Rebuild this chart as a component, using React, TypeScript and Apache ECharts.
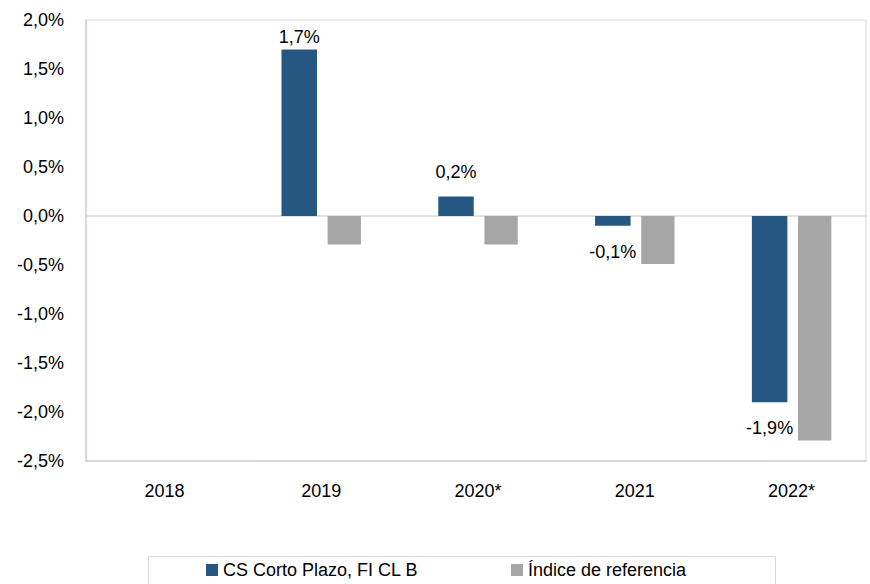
import React, { useEffect, useRef } from "react";
import * as echarts from "echarts";

const categories = ["2018", "2019", "2020*", "2021", "2022*"];
const fundName = "CS Corto Plazo, FI CL B";
const indexName = "Índice de referencia";
const fundValues: (number | null)[] = [null, 1.7, 0.2, -0.1, -1.9];
const indexValues: (number | null)[] = [null, -0.29, -0.29, -0.49, -2.29];
const yMin = -2.5;
const yMax = 2.0;
const yStep = 0.5;

const FONT = "'Liberation Sans', Arial, Helvetica, sans-serif";
const FS = 18;
const fmt = (v: number) => v.toFixed(1).replace(".", ",") + "%";

export default function App() {
  const ref = useRef<HTMLDivElement>(null);
  useEffect(() => {
    if (!ref.current) return;
    const chart = echarts.init(ref.current, null, { renderer: "svg" });
    const fundData = fundValues.map((v) => {
      if (v === null) return { value: null };
      const pos = v >= 0 ? "top" : "bottom";
      const dist = v >= 0 ? (v > 1.5 ? 3 : 15) : 17;
      return { value: v, label: { position: pos, distance: dist } };
    });
    const legendText = { fontFamily: FONT, fontSize: FS, color: "#000" };
    chart.setOption({
      animation: false,
      backgroundColor: "#ffffff",
      textStyle: { fontFamily: FONT },
      grid: [
        {
          left: 86,
          top: 20,
          width: 780,
          bottom: 123,
          show: true,
          borderColor: "#d9d9d9",
          borderWidth: 1,
        },
        {
          left: 86,
          top: 20,
          width: 791.7,
          bottom: 123,
        },
      ],
      legend: [
        {
          data: [fundName],
          left: 206,
          top: 561,
          padding: 0,
          icon: "rect",
          itemWidth: 12,
          itemHeight: 12,
          textStyle: legendText,
          selectedMode: false,
        },
        {
          data: [indexName],
          left: 511,
          top: 561,
          padding: 0,
          icon: "rect",
          itemWidth: 12,
          itemHeight: 12,
          textStyle: legendText,
          selectedMode: false,
        },
      ],
      graphic: [
        {
          type: "rect",
          shape: { x: 148.5, y: 556.5, width: 627, height: 40 },
          style: { fill: "none", stroke: "#d9d9d9", lineWidth: 1 },
          silent: true,
        },
      ],
      xAxis: [
        {
          gridIndex: 0,
          type: "category",
          data: categories,
          position: "bottom",
          axisLine: { onZero: false, lineStyle: { color: "#cfd0dc", width: 1.5 } },
          axisTick: { show: false },
          axisLabel: { show: false },
          splitLine: { show: false },
        },
        {
          gridIndex: 0,
          type: "category",
          data: categories,
          position: "bottom",
          axisLine: { onZero: true, lineStyle: { color: "#d9d9d9", width: 1.5 } },
          axisTick: { show: false },
          axisLabel: { show: false },
          splitLine: { show: false },
        },
        {
          gridIndex: 1,
          type: "category",
          data: categories,
          position: "bottom",
          axisLine: { show: false, onZero: false },
          axisTick: { show: false },
          axisLabel: { color: "#000", fontSize: FS, fontFamily: FONT, margin: 21 },
          splitLine: { show: false },
        },
      ],
      yAxis: [
        {
          gridIndex: 0,
          type: "value",
          min: yMin,
          max: yMax,
          interval: yStep,
          axisLine: { show: true, lineStyle: { color: "#cfd0dc", width: 1.5 } },
          axisTick: { show: false },
          splitLine: { show: false },
          axisLabel: {
            color: "#000",
            fontSize: FS,
            fontFamily: FONT,
            margin: 22,
            formatter: (v: number) => fmt(v),
          },
        },
        {
          gridIndex: 1,
          type: "value",
          min: yMin,
          max: yMax,
          interval: yStep,
          show: false,
          splitLine: { show: false },
        },
      ],
      series: [
        {
          name: fundName,
          type: "bar",
          xAxisIndex: 2,
          yAxisIndex: 1,
          data: fundData,
          barWidth: 35.5,
          barGap: "30%",
          itemStyle: { color: "#265782" },
          label: {
            show: true,
            color: "#000",
            fontSize: FS,
            fontFamily: FONT,
            formatter: (p: any) => (p.value == null ? "" : fmt(p.value)),
          },
          z: 3,
        },
        {
          name: indexName,
          type: "bar",
          xAxisIndex: 2,
          yAxisIndex: 1,
          data: indexValues,
          barWidth: 33.3,
          itemStyle: { color: "#a6a6a6" },
          label: { show: false },
          z: 2,
        },
      ],
    });
    return () => chart.dispose();
  }, []);
  return (
    <div
      ref={ref}
      style={{ position: "fixed", left: 0, top: 0, width: 870, height: 584, background: "#fff" }}
    />
  );
}
